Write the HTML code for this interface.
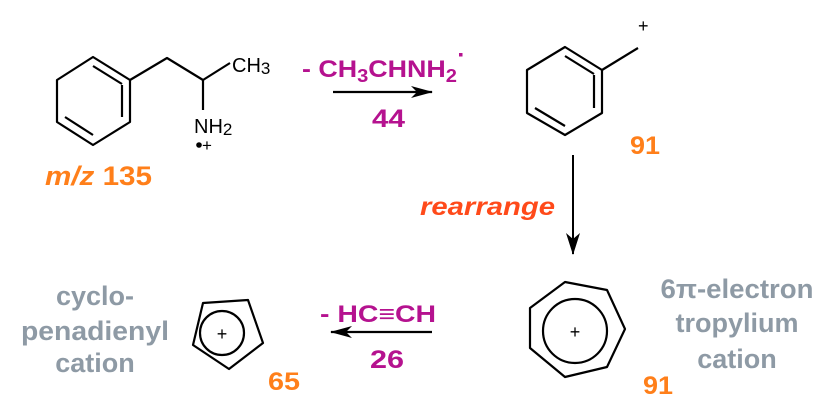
<!DOCTYPE html>
<html><head><meta charset="utf-8"><style>
html,body{margin:0;padding:0;background:#fff;}
svg{display:block;}
text{font-family:"Liberation Sans",Arial,sans-serif;}
.b{font-weight:bold;}
</style></head><body>
<svg width="823" height="409" viewBox="0 0 823 409" xmlns="http://www.w3.org/2000/svg">
<defs>
<marker id="ah" markerWidth="22" markerHeight="12" refX="21" refY="6" orient="auto" markerUnits="userSpaceOnUse">
<path d="M0,0 L22,6 L0,12 L6,6 Z" fill="#000"/>
</marker>
<marker id="ah2" markerWidth="22" markerHeight="14" refX="21" refY="7" orient="auto" markerUnits="userSpaceOnUse">
<path d="M0,0 L22,7 L0,14 L6,7 Z" fill="#000"/>
</marker>
</defs>
<g stroke="#000" stroke-width="2.2" fill="none" stroke-linejoin="round">
<polygon points="93,57 130,80 130,122 93,145 57,122 57,80"/>
<line x1="93" y1="66" x2="122" y2="84"/>
<line x1="122" y1="85" x2="122" y2="117"/>
<line x1="65" y1="117" x2="93" y2="135"/>
<polyline points="130,80 167,58 203,80 230,63"/>
<line x1="203" y1="80" x2="203" y2="110"/>
<polygon points="565,47 602,70 602,113 565,135 527,113 527,70"/>
<line x1="565" y1="56" x2="594" y2="74"/>
<line x1="594" y1="75" x2="594" y2="108"/>
<line x1="535" y1="108" x2="565" y2="126"/>
<line x1="602" y1="70" x2="638" y2="48"/>
<polygon points="565,282 607,290 625,329 607,367 565,377 530,348 530,308"/>
<circle cx="575" cy="331" r="32"/>
<polygon points="203,303 248,300 263,343 229,369 193,345"/>
<circle cx="222" cy="333" r="22"/>
<line x1="333" y1="92" x2="432" y2="92" marker-end="url(#ah)"/>
<line x1="573" y1="155" x2="573" y2="254" marker-end="url(#ah2)" stroke-width="2"/>
<line x1="432" y1="332" x2="331" y2="332" marker-end="url(#ah)"/>
</g>
<g fill="#000">
<text x="232" y="72" font-size="20">CH<tspan font-size="17" dy="2">3</tspan></text>
<text x="194" y="133" font-size="20">NH<tspan font-size="17" dy="2">2</tspan></text>
<circle cx="199" cy="145" r="2.8"/>
<text x="202" y="151" font-size="17">+</text>
<text x="638" y="32" font-size="18">+</text>
<text x="575" y="338" font-size="18" text-anchor="middle">+</text>
<text x="222" y="340" font-size="18" text-anchor="middle">+</text>
</g>
<text x="45" y="185" font-size="27" fill="#ff7f1a" class="b" textLength="107" lengthAdjust="spacingAndGlyphs"><tspan font-style="italic">m/z</tspan> 135</text>
<text x="302" y="77" font-size="24" fill="#b5128f" class="b" textLength="155" lengthAdjust="spacingAndGlyphs">- CH<tspan font-size="18" dy="5">3</tspan><tspan dy="-5">CHNH</tspan><tspan font-size="18" dy="5">2</tspan></text>
<rect x="459" y="53" width="3.5" height="3.5" fill="#b5128f"/>
<text x="372" y="127" font-size="25" fill="#b5128f" class="b" textLength="33" lengthAdjust="spacingAndGlyphs">44</text>
<text x="630" y="154" font-size="25" fill="#ff7f1a" class="b" textLength="30" lengthAdjust="spacingAndGlyphs">91</text>
<text x="420" y="215" font-size="25" fill="#ff4a1a" class="b" font-style="italic" textLength="135" lengthAdjust="spacingAndGlyphs">rearrange</text>
<text x="643" y="394" font-size="25" fill="#ff7f1a" class="b" textLength="30" lengthAdjust="spacingAndGlyphs">91</text>
<text x="268" y="390" font-size="25" fill="#ff7f1a" class="b" textLength="32" lengthAdjust="spacingAndGlyphs">65</text>
<text x="320" y="322" font-size="24" fill="#b5128f" class="b" textLength="116" lengthAdjust="spacingAndGlyphs">- HC≡CH</text>
<text x="370" y="368" font-size="25" fill="#b5128f" class="b" textLength="34" lengthAdjust="spacingAndGlyphs">26</text>
<g fill="#8e9aa5" class="b" font-size="27" text-anchor="middle">
<text x="737" y="298" textLength="153" lengthAdjust="spacingAndGlyphs">6π-electron</text>
<text x="737" y="332">tropylium</text>
<text x="737" y="368">cation</text>
<text x="95" y="305">cyclo-</text>
<text x="95" y="340" textLength="148" lengthAdjust="spacingAndGlyphs">penadienyl</text>
<text x="95" y="372">cation</text>
</g>
</svg>
</body></html>
